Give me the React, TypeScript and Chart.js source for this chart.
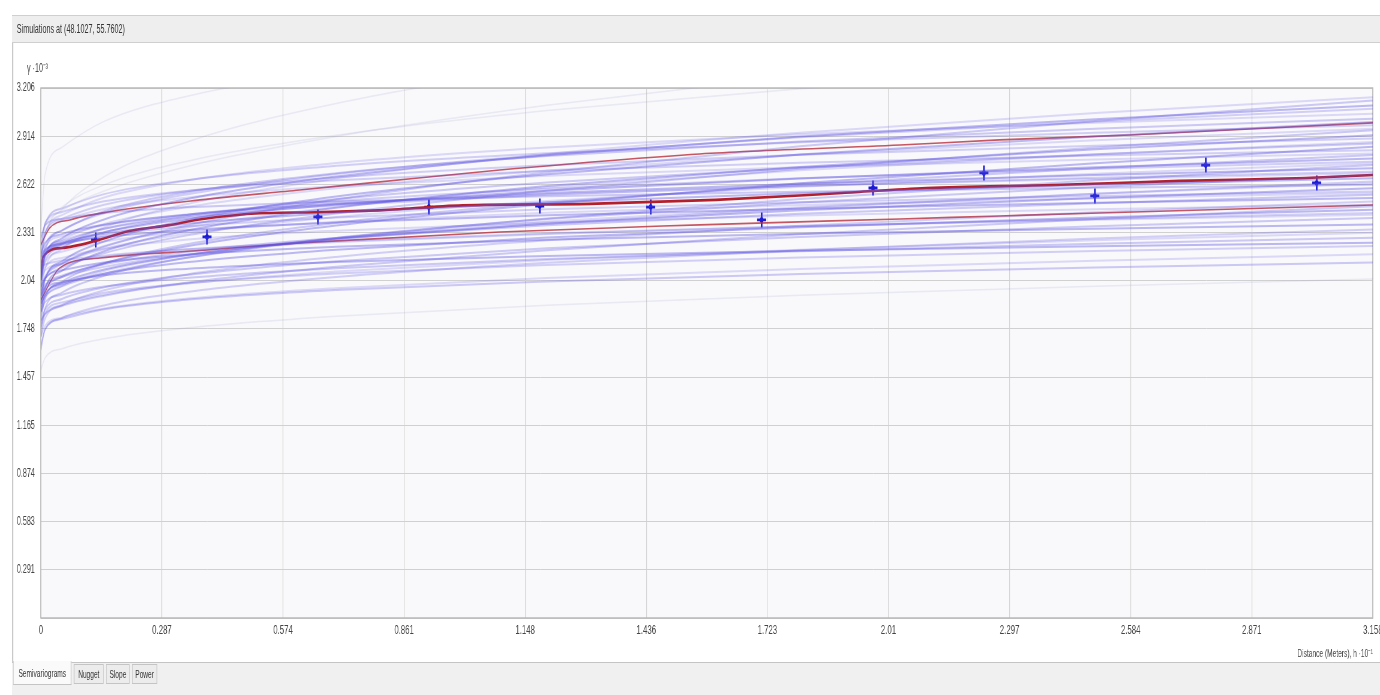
import React, { useEffect, useRef } from "react";
import { Chart, registerables } from "chart.js";

Chart.register(...registerables);

// ---------- text ----------
const windowTitle = "Simulations at (48.1027, 55.7602)";
const yAxisTitle = "γ ·10⁻³";
const xAxisTitle = "Distance (Meters), h ·10⁻¹";
const tabLabels = ["Semivariograms", "Nugget", "Slope", "Power"];

// ---------- ticks ----------
const xTickValues = [0, 0.2871, 0.5742, 0.8613, 1.1484, 1.4355, 1.7226, 2.0097, 2.2968, 2.5839, 2.871, 3.158];
const xTickLabels = ["0", "0.287", "0.574", "0.861", "1.148", "1.436", "1.723", "2.01", "2.297", "2.584", "2.871", "3.158"];
const yTickValues = [0, 0.2915, 0.5829, 0.8744, 1.1658, 1.4573, 1.7487, 2.0402, 2.3316, 2.6231, 2.9145, 3.206];
const yTickLabels = ["", "0.291", "0.583", "0.874", "1.165", "1.457", "1.748", "2.04", "2.331", "2.622", "2.914", "3.206"];

// ---------- empirical semivariogram (blue crosses) ----------
const lagDistances = [0.13, 0.394, 0.657, 0.92, 1.183, 1.446, 1.709, 1.973, 2.236, 2.499, 2.762, 3.025];
const empiricalGamma = [2.287, 2.305, 2.426, 2.486, 2.492, 2.486, 2.408, 2.601, 2.692, 2.553, 2.74, 2.632];

// ---------- simulated semivariogram curves ----------
const curveX = [0, 0.01, 0.05, 0.15, 0.35, 0.7, 1.2, 1.8, 2.5, 3.158];
const simulatedCurves = [
  [1.95, 2.11, 2.231, 2.363, 2.506, 2.658, 2.806, 2.935, 3.055, 3.15],
  [2.0, 2.063, 2.142, 2.246, 2.376, 2.532, 2.696, 2.853, 3.006, 3.13],
  [2.05, 2.19, 2.296, 2.411, 2.536, 2.67, 2.799, 2.912, 3.017, 3.1],
  [2.12, 2.248, 2.345, 2.45, 2.564, 2.686, 2.804, 2.908, 3.004, 3.08],
  [2.1, 2.325, 2.437, 2.544, 2.648, 2.752, 2.846, 2.926, 2.996, 3.05],
  [1.97, 2.219, 2.343, 2.46, 2.576, 2.69, 2.794, 2.882, 2.96, 3.02],
  [1.9, 2.046, 2.157, 2.278, 2.409, 2.549, 2.684, 2.803, 2.913, 3.0],
  [2.2, 2.385, 2.477, 2.564, 2.65, 2.735, 2.812, 2.878, 2.936, 2.98],
  [2.08, 2.197, 2.286, 2.383, 2.487, 2.599, 2.707, 2.802, 2.89, 2.96],
  [2.0, 2.053, 2.12, 2.207, 2.316, 2.447, 2.585, 2.717, 2.846, 2.95],
  [1.85, 1.992, 2.1, 2.218, 2.345, 2.481, 2.613, 2.728, 2.835, 2.92],
  [2.15, 2.328, 2.416, 2.5, 2.583, 2.665, 2.739, 2.802, 2.857, 2.9],
  [1.92, 2.048, 2.145, 2.25, 2.364, 2.486, 2.604, 2.708, 2.804, 2.88],
  [2.05, 2.159, 2.242, 2.332, 2.43, 2.534, 2.635, 2.723, 2.805, 2.87],
  [1.95, 2.0, 2.063, 2.146, 2.25, 2.374, 2.504, 2.63, 2.751, 2.85],
  [2.25, 2.387, 2.456, 2.521, 2.585, 2.648, 2.705, 2.754, 2.797, 2.83],
  [2.18, 2.329, 2.404, 2.474, 2.544, 2.612, 2.675, 2.727, 2.774, 2.81],
  [1.8, 1.933, 2.034, 2.144, 2.263, 2.39, 2.513, 2.621, 2.721, 2.8],
  [2.1, 2.19, 2.259, 2.334, 2.415, 2.501, 2.585, 2.658, 2.726, 2.78],
  [2.0, 2.18, 2.27, 2.355, 2.439, 2.521, 2.597, 2.66, 2.717, 2.76],
  [1.96, 2.065, 2.145, 2.232, 2.326, 2.426, 2.523, 2.609, 2.688, 2.75],
  [1.9, 1.947, 2.006, 2.083, 2.18, 2.296, 2.417, 2.534, 2.648, 2.74],
  [2.2, 2.269, 2.322, 2.379, 2.441, 2.507, 2.571, 2.627, 2.679, 2.72],
  [2.05, 2.204, 2.281, 2.354, 2.425, 2.496, 2.56, 2.615, 2.663, 2.7],
  [2.1, 2.24, 2.309, 2.376, 2.44, 2.505, 2.563, 2.613, 2.656, 2.69],
  [1.75, 1.874, 1.968, 2.07, 2.181, 2.299, 2.413, 2.514, 2.607, 2.68],
  [2.15, 2.218, 2.269, 2.325, 2.386, 2.451, 2.514, 2.569, 2.62, 2.66],
  [1.98, 2.017, 2.063, 2.124, 2.2, 2.291, 2.387, 2.478, 2.567, 2.64],
  [1.82, 1.928, 2.01, 2.099, 2.195, 2.298, 2.398, 2.485, 2.566, 2.63],
  [2.3, 2.376, 2.414, 2.449, 2.485, 2.52, 2.551, 2.578, 2.602, 2.62],
  [1.85, 1.95, 2.026, 2.108, 2.197, 2.293, 2.385, 2.466, 2.541, 2.6],
  [2.08, 2.199, 2.258, 2.314, 2.369, 2.423, 2.473, 2.515, 2.552, 2.58],
  [2.02, 2.15, 2.215, 2.277, 2.337, 2.397, 2.452, 2.498, 2.539, 2.57],
  [1.92, 2.005, 2.07, 2.14, 2.216, 2.298, 2.376, 2.445, 2.509, 2.56],
  [2.18, 2.228, 2.264, 2.304, 2.347, 2.392, 2.437, 2.476, 2.512, 2.54],
  [1.7, 1.809, 1.892, 1.982, 2.08, 2.184, 2.285, 2.373, 2.455, 2.52],
  [2.0, 2.119, 2.178, 2.234, 2.289, 2.343, 2.393, 2.435, 2.472, 2.5],
  [1.8, 1.839, 1.887, 1.95, 2.03, 2.125, 2.225, 2.321, 2.414, 2.49],
  [1.88, 1.958, 2.018, 2.083, 2.153, 2.228, 2.301, 2.364, 2.423, 2.47],
  [2.12, 2.138, 2.162, 2.192, 2.23, 2.275, 2.323, 2.369, 2.414, 2.45],
  [2.05, 2.102, 2.141, 2.184, 2.231, 2.28, 2.328, 2.37, 2.409, 2.44],
  [1.78, 1.865, 1.93, 2.0, 2.076, 2.158, 2.236, 2.305, 2.369, 2.42],
  [1.95, 2.052, 2.103, 2.151, 2.198, 2.245, 2.288, 2.324, 2.355, 2.38],
  [1.65, 1.743, 1.814, 1.891, 1.974, 2.063, 2.149, 2.225, 2.295, 2.35],
  [1.76, 1.836, 1.893, 1.956, 2.024, 2.096, 2.166, 2.228, 2.285, 2.33],
  [1.85, 1.91, 1.955, 2.005, 2.058, 2.116, 2.171, 2.219, 2.264, 2.3],
  [1.9, 1.988, 2.031, 2.073, 2.113, 2.154, 2.19, 2.222, 2.249, 2.27],
  [1.72, 1.846, 1.908, 1.968, 2.026, 2.084, 2.136, 2.181, 2.22, 2.25],
  [1.7, 1.767, 1.817, 1.872, 1.932, 1.995, 2.057, 2.111, 2.161, 2.2],
  [1.62, 1.746, 1.808, 1.868, 1.926, 1.984, 2.036, 2.081, 2.12, 2.15],
];
const faintCurves = [
  [2.2, 2.362, 2.485, 2.62, 2.765, 2.92, 3.07, 3.202, 3.324, 3.42],
  [2.05, 2.289, 2.471, 2.669, 2.883, 3.112, 3.333, 3.528, 3.708, 3.85],
  [2.3, 2.373, 2.464, 2.583, 2.733, 2.912, 3.101, 3.282, 3.457, 3.6],
  [2.35, 2.682, 2.847, 3.004, 3.158, 3.31, 3.449, 3.567, 3.67, 3.75],
  [1.5, 1.573, 1.629, 1.689, 1.755, 1.825, 1.892, 1.952, 2.007, 2.05],
];

// ---------- summary lines (red) ----------
const medianX = [0, 0.005, 0.05, 0.13, 0.21, 0.3, 0.38, 0.52, 0.65, 0.8, 1.0, 1.3, 1.6, 1.9, 2.1, 2.4, 2.7, 3.0, 3.158];
const medianY = [2.045, 2.184, 2.238, 2.281, 2.341, 2.375, 2.412, 2.448, 2.454, 2.466, 2.496, 2.505, 2.529, 2.571, 2.601, 2.619, 2.644, 2.662, 2.68];
const upperX = [0, 0.021, 0.069, 0.159, 0.377, 0.614, 0.804, 1.088, 1.562, 2.037, 2.273, 2.582, 2.866, 3.158];
const upperY = [2.257, 2.359, 2.408, 2.456, 2.529, 2.589, 2.638, 2.71, 2.807, 2.861, 2.892, 2.922, 2.958, 2.995];
const lowerX = [0, 0.045, 0.14, 0.394, 0.614, 1.088, 1.562, 2.037, 2.273, 2.51, 3.158];
const lowerY = [1.924, 2.118, 2.178, 2.226, 2.269, 2.335, 2.378, 2.414, 2.432, 2.45, 2.498];

// ---------- layout ----------
const SQUASH = 0.6;
const INNER_W = 2300;
const H = 695;
const FONT = "'Liberation Sans', Arial, sans-serif";

const toPoints = (xs: number[], ys: number[]) => xs.map((x, i) => ({ x, y: ys[i] }));

const plotFrame = {
  id: "plotFrame",
  beforeDraw(chart: any) {
    const { ctx, chartArea } = chart;
    ctx.save();
    ctx.fillStyle = "#f9f9fb";
    ctx.fillRect(chartArea.left, chartArea.top, chartArea.right - chartArea.left, chartArea.bottom - chartArea.top);
    ctx.restore();
  },
  beforeDatasetsDraw(chart: any) {
    const { ctx, chartArea } = chart;
    ctx.save();
    ctx.strokeStyle = "#b9b9b9";
    ctx.lineWidth = 1.5;
    ctx.strokeRect(chartArea.left, chartArea.top, chartArea.right - chartArea.left, chartArea.bottom - chartArea.top);
    ctx.restore();
  },
};

function buildConfig(): any {
  const simAlphas = [0.2, 0.3, 0.4, 0.26];
  const simSets = simulatedCurves.map((ys, i) => ({
    data: toPoints(curveX, ys),
    borderColor: `rgba(95, 85, 228, ${simAlphas[i % 4]})`,
    borderWidth: 2,
    pointRadius: 0,
    cubicInterpolationMode: "monotone",
    fill: false,
  }));
  const faintSets = faintCurves.map((ys) => ({
    data: toPoints(curveX, ys),
    borderColor: "rgba(150, 150, 205, 0.16)",
    borderWidth: 1.5,
    pointRadius: 0,
    cubicInterpolationMode: "monotone",
    fill: false,
  }));
  return {
    type: "line",
    data: {
      datasets: [
        ...faintSets,
        ...simSets,
        {
          data: toPoints(upperX, upperY),
          borderColor: "rgba(185, 45, 60, 0.8)",
          borderWidth: 1.6,
          pointRadius: 0,
          cubicInterpolationMode: "monotone",
        },
        {
          data: toPoints(lowerX, lowerY),
          borderColor: "rgba(185, 45, 60, 0.8)",
          borderWidth: 1.6,
          pointRadius: 0,
          cubicInterpolationMode: "monotone",
        },
        {
          data: toPoints(medianX, medianY),
          borderColor: "#b3202c",
          borderWidth: 2.6,
          pointRadius: 0,
          cubicInterpolationMode: "monotone",
        },
        {
          data: toPoints(lagDistances, empiricalGamma),
          showLine: false,
          pointStyle: "cross",
          pointRadius: 7.5,
          pointBorderWidth: 2.8,
          pointBorderColor: "#1b1bd6",
          pointBackgroundColor: "#1b1bd6",
        },
        {
          data: toPoints(lagDistances, empiricalGamma),
          showLine: false,
          pointStyle: "circle",
          pointRadius: 3,
          pointBorderWidth: 0,
          pointBackgroundColor: "#1b1bd6",
        },
      ],
    },
    options: {
      responsive: false,
      animation: false,
      devicePixelRatio: 1,
      layout: { padding: { left: 0, right: 12, top: 88, bottom: 32 } },
      plugins: { legend: { display: false }, tooltip: { enabled: false }, title: { display: false } },
      elements: { line: { tension: 0 } },
      scales: {
        x: {
          type: "linear",
          min: 0,
          max: 3.158,
          afterBuildTicks(scale: any) {
            scale.ticks = xTickValues.map((v) => ({ value: v }));
          },
          afterFit(scale: any) {
            scale.height = 45;
            scale.paddingLeft = 0;
            scale.paddingRight = 0;
          },
          ticks: {
            autoSkip: false,
            maxRotation: 0,
            padding: 5,
            color: "#444",
            font: { family: FONT, size: 13 },
            callback: (_v: any, i: number) => xTickLabels[i],
          },
          grid: { color: "#d4d4d4", lineWidth: 1.2, drawTicks: false },
          border: { display: false },
          title: {
            display: true,
            text: xAxisTitle,
            align: "end",
            color: "#444",
            font: { family: FONT, size: 11 },
            padding: { top: 0, bottom: 2 },
          },
        },
        y: {
          type: "linear",
          min: 0,
          max: 3.206,
          afterBuildTicks(scale: any) {
            scale.ticks = yTickValues.map((v) => ({ value: v }));
          },
          afterFit(scale: any) {
            scale.width = 68;
            scale.paddingTop = 0;
            scale.paddingBottom = 0;
          },
          ticks: {
            autoSkip: false,
            padding: 10,
            color: "#444",
            font: { family: FONT, size: 12 },
            callback: (_v: any, i: number) => yTickLabels[i],
          },
          grid: { color: "#d0d0d0", lineWidth: 1, drawTicks: false },
          border: { display: false },
        },
      },
    },
    plugins: [plotFrame],
  };
}

export default function App() {
  const canvasRef = useRef<HTMLCanvasElement | null>(null);

  useEffect(() => {
    if (!canvasRef.current) return;
    const chart = new Chart(canvasRef.current, buildConfig());
    return () => chart.destroy();
  }, []);

  const tabBoxes = [
    { left: 22, width: 97, selected: true },
    { left: 123, width: 50, selected: false },
    { left: 177, width: 39, selected: false },
    { left: 220, width: 42, selected: false },
  ];

  return (
    <div
      style={{
        position: "fixed",
        left: 0,
        top: 0,
        width: 1380,
        height: H,
        overflow: "hidden",
        background: "#ffffff",
      }}
    >
      <div
        style={{
          position: "absolute",
          left: 0,
          top: 0,
          width: INNER_W,
          height: H,
          transform: `scaleX(${SQUASH})`,
          transformOrigin: "0 0",
          fontFamily: FONT,
        }}
      >
        {/* left frame line */}
        <div style={{ position: "absolute", left: 20, top: 15, width: 1.6, height: 650, background: "#c9c9c9" }} />
        {/* header bar */}
        <div
          style={{
            position: "absolute",
            left: 20,
            top: 15,
            width: INNER_W - 20,
            height: 28,
            background: "#eeeeee",
            borderTop: "1px solid #cfcfcf",
            borderBottom: "1px solid #cfcfcf",
            boxSizing: "border-box",
          }}
        />
        <div
          style={{
            position: "absolute",
            left: 28,
            top: 15,
            height: 28,
            lineHeight: "28px",
            fontSize: 12,
            color: "#333",
            whiteSpace: "nowrap",
          }}
        >
          {windowTitle}
        </div>
        {/* y axis title */}
        <div style={{ position: "absolute", left: 45, top: 59, fontSize: 12, color: "#444", whiteSpace: "nowrap" }}>
          {yAxisTitle}
        </div>
        <canvas ref={canvasRef} width={INNER_W} height={H} style={{ position: "absolute", left: 0, top: 0 }} />
        {/* bottom tab strip */}
        <div
          style={{
            position: "absolute",
            left: 20,
            top: 662,
            width: INNER_W - 20,
            height: H - 662,
            background: "#f0f0f0",
            borderTop: "1px solid #c4c4c4",
            boxSizing: "border-box",
          }}
        />
        {tabLabels.map((label, i) => {
          const b = tabBoxes[i];
          return (
            <div
              key={label}
              style={{
                position: "absolute",
                left: b.left,
                top: b.selected ? 661 : 664,
                width: b.width,
                height: b.selected ? 24 : 20,
                background: b.selected ? "#fafafa" : "#ececec",
                border: "1px solid #c4c4c4",
                borderTop: b.selected ? "none" : "1px solid #c4c4c4",
                boxSizing: "border-box",
                fontSize: 11,
                lineHeight: b.selected ? "24px" : "18px",
                textAlign: "center",
                color: "#333",
                whiteSpace: "nowrap",
              }}
            >
              {label}
            </div>
          );
        })}
      </div>
    </div>
  );
}
